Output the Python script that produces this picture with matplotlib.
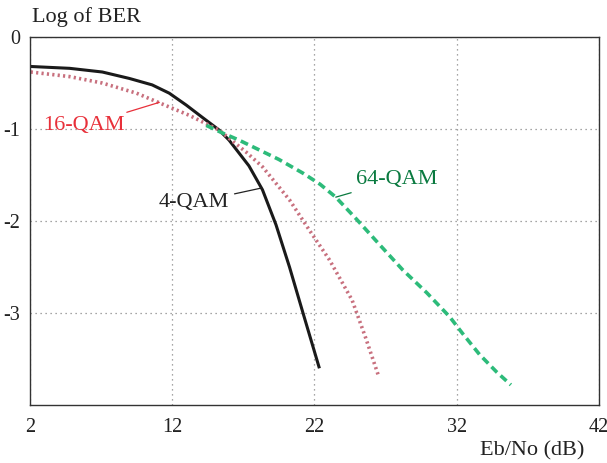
import matplotlib.pyplot as plt

plt.rcParams['font.family'] = ['Liberation Serif', 'DejaVu Serif']

# values (Eb/No in dB, log10 of BER)
qam4_x = [2.07, 4.8, 7.1, 9.0, 10.6, 11.8, 13.0, 14.1, 15.3, 16.0, 17.4, 18.35,
          19.3, 20.25, 21.2, 22.35]
qam4_y = [-0.32, -0.34, -0.38, -0.45, -0.52, -0.61, -0.74, -0.87, -1.01, -1.12, -1.40, -1.66,
          -2.04, -2.50, -3.00, -3.60]

qam16_x = [2.07, 4.8, 7.1, 9.5, 11.8, 13.2, 14.1, 15.3, 16.0, 17.2, 18.35, 20.25,
           21.65, 23.05, 24.65, 25.58, 26.52]
qam16_y = [-0.38, -0.43, -0.50, -0.61, -0.76, -0.85, -0.92, -1.01, -1.10, -1.25, -1.41, -1.77,
           -2.10, -2.42, -2.86, -3.26, -3.69]

qam64_x = [14.4, 15.5, 16.7, 17.9, 19.5, 21.2, 22.4, 23.5, 24.9, 26.6, 28.2, 29.9,
           31.5, 32.4, 33.6, 34.8, 35.8]
qam64_y = [-0.96, -1.04, -1.12, -1.21, -1.33, -1.48, -1.60, -1.74, -1.97, -2.26, -2.53, -2.78,
           -3.04, -3.22, -3.45, -3.64, -3.78]

xticks = [2, 12, 22, 32, 42]
yticks = [0, -1, -2, -3]

fig = plt.figure(figsize=(6.07, 4.63), dpi=100)
ax = fig.add_axes([0.049, 0.125, 0.938, 0.795])

ax.plot(qam4_x, qam4_y, color='#1a1a1a', lw=2.2, solid_capstyle='butt', solid_joinstyle='round')
ax.plot(qam16_x, qam16_y, color='#c8707e', lw=2.6, linestyle=(0, (0.6, 0.9)))
ax.plot(qam64_x, qam64_y, color='#2dbb7a', lw=2.6, linestyle=(0, (2.2, 1.3)))

ax.set_xlim(2, 42)
ax.set_ylim(-4, 0)
ax.set_xticks(xticks)
ax.set_yticks(yticks)
ax.set_yticklabels(['0', '-1', '-2', '-3'])
ax.tick_params(length=0, labelsize=14.5, colors='#222222')
ax.tick_params(axis='x', pad=9)
ax.tick_params(axis='y', pad=7)
ax.grid(True, color='#888888', linestyle=(0, (1, 3)), lw=0.9)
for s in ax.spines.values():
    s.set_color('#333333')
    s.set_linewidth(1.0)

fig.text(0.053, 0.963, 'Log of BER', fontsize=16, color='#222222', va='center')
fig.text(0.962, 0.026, 'Eb/No (dB)', fontsize=16, color='#222222', ha='right', va='center')

ax.annotate('16-QAM', xy=(11.1, -0.71), xytext=(8.67, -0.96), fontsize=16, color='#e8303a',
            ha='right', va='center',
            arrowprops=dict(arrowstyle='-', color='#e8303a', lw=0.9, shrinkA=2, shrinkB=0))
ax.annotate('4-QAM', xy=(18.3, -1.64), xytext=(16.0, -1.80), fontsize=16, color='#222222',
            ha='right', va='center',
            arrowprops=dict(arrowstyle='-', color='#222222', lw=0.9, shrinkA=2, shrinkB=0))
ax.annotate('64-QAM', xy=(23.5, -1.74), xytext=(24.9, -1.55), fontsize=16, color='#0a7a40',
            ha='left', va='center',
            arrowprops=dict(arrowstyle='-', color='#0a7a40', lw=0.9, shrinkA=2, shrinkB=0))

fig.savefig('out.png', dpi=100)
